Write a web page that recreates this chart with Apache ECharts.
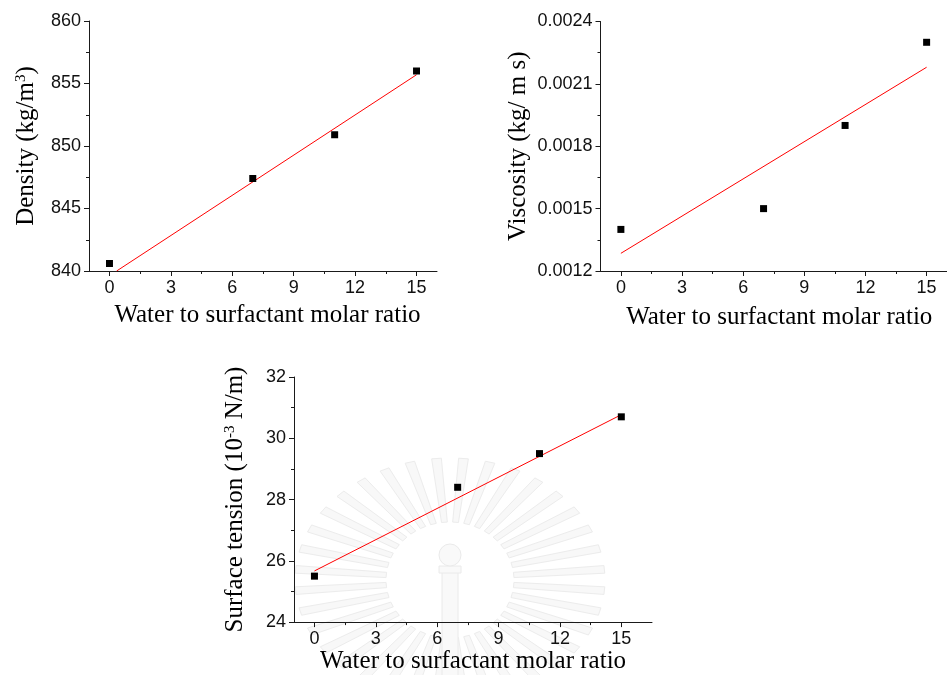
<!DOCTYPE html>
<html>
<head>
<meta charset="utf-8">
<script src="https://cdn.jsdelivr.net/npm/echarts@6/dist/echarts.min.js"></script>
<style>
html, body { margin: 0; padding: 0; background: #fff; }
#chart { width: 947px; height: 675px; }
</style>
</head>
<body>
<div id="chart"></div>
<script>
// water to surfactant molar ratio (x values shared by all three panels)
const ratio = [0, 7, 11, 15]
const density = [840.6, 847.4, 850.9, 856.0]
const densityFit = [[0.35, 840], [15, 855.7]]
const viscosity = [0.0014, 0.0015, 0.0019, 0.0023]
const viscosityFit = [[0, 0.001285], [15, 0.00218]]
const tension = [25.5, 28.4, 29.5, 30.7]
const tensionFit = [[0, 25.67], [15, 30.77]]
const xTicks = [0, 3, 6, 9, 12, 15]
const xMinorTicks = [1.5, 4.5, 7.5, 10.5, 13.5]
const xTitle = 'Water to surfactant molar ratio'

const axisColor = '#1a1a1a'
const sans = '"Liberation Sans", Arial, sans-serif'
const serif = '"Liberation Serif", "Times New Roman", serif'

const panels = [{
  grid: { left: 89, top: 21, width: 348, height: 250 },
  xMax: 16, yMin: 840, yMax: 860, yStep: 5,
  yName: 'Density (kg/m{sup|3})', yGap: 50, xGap: 32, xPad: 9,
  values: density, fit: densityFit, fmt: null
}, {
  grid: { left: 600.5, top: 21.5, width: 348, height: 249.5 },
  xMax: 16, yMin: 0.0012, yMax: 0.0024, yStep: 0.0003,
  yName: 'Viscosity (kg/ m s)', yGap: 70, xGap: 34, xPad: 11,
  values: viscosity, fit: viscosityFit, fmt: v => v.toFixed(4)
}, {
  grid: { left: 294, top: 377, width: 358, height: 250 },
  xMax: 16.5, yMin: 24, yMax: 32, yStep: 2,
  yName: 'Surface tension (10{sup|-3} N/m)', yGap: 46, xGap: 21, xPad: 0,
  values: tension, fit: tensionFit, fmt: null
}]

function nameStyle(pad) {
  return {
    fontFamily: serif,
    fontSize: 25,
    color: '#000',
    padding: pad,
    rich: {
      sup: { fontFamily: serif, fontSize: 15, color: '#000', verticalAlign: 'top', lineHeight: 15 }
    }
  }
}

// faint watermark emblem behind the lower panel (decoration only)
function watermark() {
  const cx = 450, cy = 580
  const els = []
  for (let k = 0; k < 36; k++) {
    const a = (k * 10 + 5) * Math.PI / 180
    const pt = (r1, r2, d) => [cx + r1 * Math.cos(a + d), cy - r2 * Math.sin(a + d)]
    const w1 = 2.6 * Math.PI / 180, w2 = 1.8 * Math.PI / 180
    els.push({
      type: 'polygon',
      shape: { points: [pt(64, 58, -w1), pt(155, 122, -w2), pt(155, 122, w2), pt(64, 58, w1)] },
      style: { fill: '#f8f8f8', stroke: '#ececec', lineWidth: 1 },
      silent: true
    })
  }
  els.push({ type: 'rect', shape: { x: 442, y: 572, width: 16, height: 110 }, style: { fill: '#f9f9f9', stroke: '#eaeaea' }, silent: true })
  els.push({ type: 'rect', shape: { x: 439, y: 566, width: 22, height: 7 }, style: { fill: '#f9f9f9', stroke: '#eaeaea' }, silent: true })
  els.push({ type: 'circle', shape: { cx: 450, cy: 555, r: 11 }, style: { fill: '#f9f9f9', stroke: '#eaeaea' }, silent: true })
  return [{ type: 'group', z: -10, children: els }]
}

const option = {
  backgroundColor: '#fff',
  animation: false,
  graphic: watermark(),
  grid: [],
  xAxis: [],
  yAxis: [],
  series: []
}

panels.forEach((p, i) => {
  option.grid.push(Object.assign({ containLabel: false }, p.grid))
  // main x axis
  option.xAxis.push({
    type: 'value',
    gridIndex: i,
    position: 'bottom',
    min: -1,
    max: p.xMax,
    name: xTitle,
    nameLocation: 'middle',
    nameGap: p.xGap,
    nameTextStyle: nameStyle([0, 0, 0, p.xPad]),
    axisLine: { show: true, onZero: false, lineStyle: { color: axisColor, width: 1 } },
    axisTick: { show: true, customValues: xTicks, length: 5, lineStyle: { color: axisColor } },
    axisLabel: { customValues: xTicks, margin: 8, fontFamily: sans, fontSize: 18, color: '#111' },
    splitLine: { show: false }
  })
  // minor x ticks
  option.xAxis.push({
    type: 'value',
    gridIndex: i,
    position: 'bottom',
    min: -1,
    max: p.xMax,
    axisLine: { show: false, onZero: false },
    axisTick: { show: true, customValues: xMinorTicks, length: 3, lineStyle: { color: axisColor } },
    axisLabel: { show: false },
    splitLine: { show: false }
  })
  option.yAxis.push({
    type: 'value',
    gridIndex: i,
    position: 'left',
    min: p.yMin,
    max: p.yMax,
    interval: p.yStep,
    name: p.yName,
    nameLocation: 'middle',
    nameRotate: 90,
    nameGap: p.yGap,
    nameTextStyle: nameStyle(0),
    axisLine: { show: true, onZero: false, lineStyle: { color: axisColor, width: 1 } },
    axisTick: { show: true, length: 5, lineStyle: { color: axisColor } },
    minorTick: { show: true, splitNumber: 2, length: 3, lineStyle: { color: axisColor } },
    axisLabel: { margin: 8, fontFamily: sans, fontSize: 18, color: '#111', formatter: p.fmt || undefined },
    splitLine: { show: false }
  })
  option.series.push({
    type: 'scatter',
    xAxisIndex: i * 2,
    yAxisIndex: i,
    symbol: 'rect',
    symbolSize: 7,
    itemStyle: { color: '#000', opacity: 1 },
    data: ratio.map((x, k) => [x, p.values[k]]),
    z: 3
  })
  option.series.push({
    type: 'line',
    xAxisIndex: i * 2,
    yAxisIndex: i,
    symbol: 'none',
    lineStyle: { color: '#ff0000', width: 1 },
    data: p.fit,
    z: 2
  })
})

const chart = echarts.init(document.getElementById('chart'))
chart.setOption(option)
</script>
</body>
</html>
